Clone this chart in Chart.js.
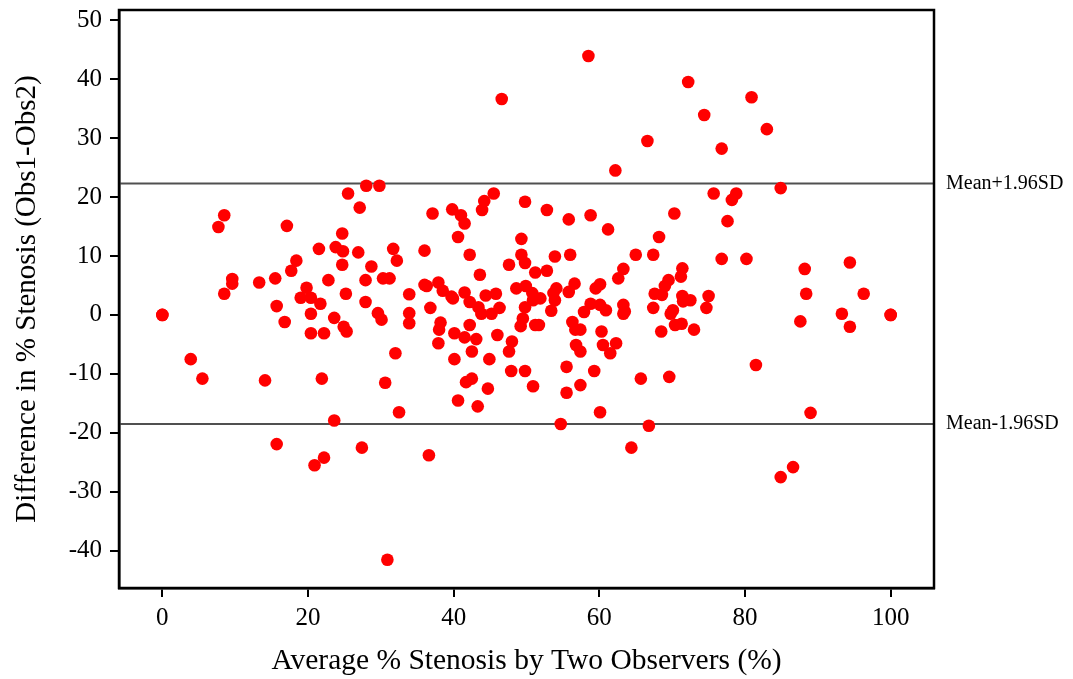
<!DOCTYPE html>
<html lang="en">
<head>
  <meta charset="UTF-8">
  <title>Bland-Altman plot</title>
  <script src="https://cdn.jsdelivr.net/npm/chart.js"></script>
  <style>
    body { margin: 0; background: #fff; }
    #wrap { width: 1073px; height: 679px; }
  </style>
</head>
<body>
  <div id="wrap"><canvas id="myChart"></canvas></div>

  <script>
    // average % stenosis (x) and difference Obs1-Obs2 (y)
    const avgStenosis = [
      0, 0, 3.9, 5.5, 7.7, 8.5, 8.5, 9.6, 9.6, 13.3,
      15.5, 17.1, 18.4, 17.7, 15.7, 16.8, 19.8, 19.0, 20.4, 21.7,
      20.4, 23.6, 20.4, 22.2, 24.9, 25.3, 22.8, 25.2, 21.5, 24.7,
      23.8, 24.8, 24.7, 26.9, 28.7, 25.5, 27.1, 28.0, 29.8, 31.7,
      32.2, 27.9, 30.3, 31.2, 27.9, 29.6, 30.1, 33.9, 33.9, 33.9,
      14.1, 21.9, 32.0, 30.6, 32.5, 23.6, 15.7, 27.4, 22.2, 20.9,
      30.9, 46.6, 45.5, 44.2, 43.9, 39.8, 41.0, 41.5, 37.1, 49.8,
      52.8, 55.8, 40.6, 49.3, 36.0, 42.2, 49.3, 49.8, 47.6, 53.9,
      56.0, 43.6, 51.2, 52.8, 36.0, 36.3, 37.9, 38.5, 39.7, 39.9,
      41.5, 44.4, 45.8, 36.8, 42.2, 43.4, 43.8, 45.2, 46.3, 48.6,
      49.9, 50.8, 50.9, 51.9, 53.7, 54.1, 53.9, 55.8, 56.6, 49.8,
      53.4, 49.5, 49.2, 51.2, 51.7, 56.3, 38.2, 42.2, 38.0, 40.1,
      41.5, 43.1, 46.0, 48.0, 47.6, 37.9, 42.5, 40.1, 44.9, 47.9,
      49.8, 50.9, 55.5, 55.5, 41.7, 42.5, 44.7, 40.6, 43.3, 54.7,
      36.6, 56.7, 57.4, 56.8, 57.4, 57.4, 58.5, 72.2, 74.4, 66.6,
      76.8, 62.2, 80.9, 75.7, 78.8, 78.2, 77.6, 70.3, 58.8, 61.2,
      68.2, 76.8, 80.2, 65.0, 67.4, 63.3, 62.6, 71.4, 71.2, 69.5,
      69.0, 59.5, 60.1, 67.6, 68.6, 71.4, 72.5, 75.0, 71.5, 58.8,
      57.9, 60.1, 60.9, 63.3, 63.5, 63.3, 67.4, 70.1, 69.8, 74.7,
      60.3, 68.5, 70.4, 71.3, 73.0, 60.5, 61.5, 62.3, 59.3, 65.7,
      69.6, 60.1, 66.8, 64.4, 83.0, 84.9, 88.2, 94.4, 88.4, 96.3,
      93.3, 100, 100, 87.6, 94.4, 81.5, 89.0, 86.6, 84.9
    ];
    const diffStenosis = [
      0, 0, -7.5, -10.8, 14.9, 16.9, 3.6, 6.1, 5.3, 5.5,
      6.2, 15.1, 9.2, 7.5, 1.5, -1.2, 4.6, 2.9, 2.9, 1.9,
      0.2, -0.5, -3.1, -3.1, -2.0, -2.8, 5.9, 3.6, 11.2, 13.8,
      11.5, 10.8, 8.5, 10.6, 8.2, 20.6, 18.2, 21.9, 21.9, 11.2,
      9.2, 5.9, 6.2, 6.2, 2.2, 0.3, -0.8, 3.5, 0.3, -1.4,
      -11.1, -10.8, -6.5, -11.5, -16.5, -17.9, -21.9, -22.5, -24.2, -25.5,
      -41.5, 36.6, 20.6, 19.3, 17.8, 17.9, 16.9, 15.5, 17.2, 19.2,
      17.8, 16.2, 13.2, 12.9, 10.9, 10.2, 10.2, 8.8, 8.5, 9.9,
      10.2, 6.8, 7.2, 7.5, 5.1, 4.9, 5.5, 4.1, 3.1, 2.8,
      3.8, 3.3, 3.6, 1.2, 2.2, 1.3, 0.2, 0.2, 1.2, 4.5,
      4.9, 3.7, 2.5, 2.8, 3.7, 4.5, 2.5, 3.9, 5.3, 1.3,
      0.7, -0.6, -1.9, -1.7, -1.7, -1.2, -1.3, -1.7, -2.5, -3.1,
      -3.8, -4.1, -3.4, -4.5, -6.2, -4.8, -6.2, -7.5, -7.5, -9.5,
      -9.5, -12.1, -8.8, -13.2, -11.4, -10.8, -12.5, -14.5, -15.5, -18.5,
      -23.8, -2.5, -2.5, -5.1, -6.2, -11.9, 43.9, 39.5, 33.9, 29.5,
      28.2, 24.5, 36.9, 20.6, 20.6, 19.5, 15.9, 17.2, 16.9, 14.5,
      13.2, 9.5, 9.5, 10.2, 10.2, 7.8, 6.2, 7.9, 6.5, 5.9,
      4.9, 4.5, 5.2, 3.6, 3.4, 3.2, 2.5, 3.2, 2.3, 1.9,
      0.5, 1.7, 0.8, 1.7, 0.6, 0.2, 1.2, 0.8, 0.2, 1.2,
      -2.8, -2.8, -1.7, -1.5, -2.5, -5.1, -6.5, -4.8, -9.5, -10.8,
      -10.5, -16.5, -18.8, -22.5, 31.5, 21.5, 7.8, 8.9, 3.6, 3.6,
      0.2, 0, 0, -1.1, -2.0, -8.5, -16.6, -25.8, -27.5
    ];
    const upperLimit = 22.3;   // Mean+1.96SD
    const lowerLimit = -18.5;  // Mean-1.96SD
    const limitLabels = ['Mean+1.96SD', 'Mean-1.96SD'];
    const xTicks = [0, 20, 40, 60, 80, 100];
    const yTicks = [-40, -30, -20, -10, 0, 10, 20, 30, 40, 50];
    const xMin = -5.95, xMax = 105.95;
    const yMin = -46.3, yMax = 51.7;

    const serif = "'Liberation Serif', 'Times New Roman', serif";

    // full black frame + text labels for the limit lines
    const framePlugin = {
      id: 'frame',
      afterDraw(chart) {
        const { ctx, chartArea: a, scales } = chart;
        ctx.save();
        ctx.strokeStyle = '#000';
        ctx.lineWidth = 2.5;
        ctx.strokeRect(a.left, a.top, a.right - a.left, a.bottom - a.top);
        ctx.fillStyle = '#000';
        ctx.font = '20px ' + serif;
        ctx.textBaseline = 'middle';
        ctx.textAlign = 'left';
        ctx.fillText(limitLabels[0], a.right + 12, scales.y.getPixelForValue(upperLimit));
        ctx.fillText(limitLabels[1], a.right + 12, scales.y.getPixelForValue(lowerLimit));
        ctx.restore();
      }
    };

    const ctx = document.getElementById('myChart').getContext('2d');

    new Chart(ctx, {
      type: 'scatter',
      data: {
        datasets: [
          {
            label: 'Difference',
            data: avgStenosis.map((x, i) => ({ x: x, y: diffStenosis[i] })),
            backgroundColor: '#ff0000',
            borderWidth: 0,
            pointRadius: 6.3,
            pointHoverRadius: 6.3
          },
          {
            type: 'line',
            label: limitLabels[0],
            data: [{ x: xMin, y: upperLimit }, { x: xMax, y: upperLimit }],
            borderColor: '#505050',
            borderWidth: 2,
            pointRadius: 0
          },
          {
            type: 'line',
            label: limitLabels[1],
            data: [{ x: xMin, y: lowerLimit }, { x: xMax, y: lowerLimit }],
            borderColor: '#505050',
            borderWidth: 2,
            pointRadius: 0
          }
        ]
      },
      options: {
        responsive: true,
        maintainAspectRatio: false,
        animation: false,
        layout: { padding: { left: 0, top: 10, right: 139, bottom: 0 } },
        plugins: {
          legend: { display: false },
          tooltip: { enabled: false }
        },
        scales: {
          x: {
            type: 'linear',
            min: xMin,
            max: xMax,
            afterBuildTicks: (scale) => { scale.ticks = xTicks.map(v => ({ value: v })); },
            afterFit: (scale) => { scale.height = 91; scale.paddingLeft = 0; scale.paddingRight = 0; },
            grid: { display: true, drawOnChartArea: false, drawTicks: true, tickLength: 9, color: '#000', lineWidth: 2 },
            border: { display: true, color: '#000', width: 2.5 },
            ticks: { color: '#000', font: { family: serif, size: 25 }, padding: 6 },
            title: {
              display: true,
              text: 'Average % Stenosis by Two Observers (%)',
              color: '#000',
              font: { family: serif, size: 29.5 },
              padding: { top: 0, bottom: 0 }
            }
          },
          y: {
            type: 'linear',
            min: yMin,
            max: yMax,
            afterBuildTicks: (scale) => { scale.ticks = yTicks.map(v => ({ value: v })); },
            afterFit: (scale) => { scale.width = 119; scale.paddingTop = 0; scale.paddingBottom = 0; },
            grid: { display: true, drawOnChartArea: false, drawTicks: true, tickLength: 9, color: '#000', lineWidth: 2 },
            border: { display: true, color: '#000', width: 2.5 },
            ticks: { color: '#000', font: { family: serif, size: 25 }, padding: 8 },
            title: {
              display: true,
              text: 'Difference in % Stenosis (Obs1-Obs2)',
              color: '#000',
              font: { family: serif, size: 29 },
              padding: { top: 10, bottom: 0 }
            }
          }
        }
      },
      plugins: [framePlugin]
    });
  </script>
</body>
</html>
